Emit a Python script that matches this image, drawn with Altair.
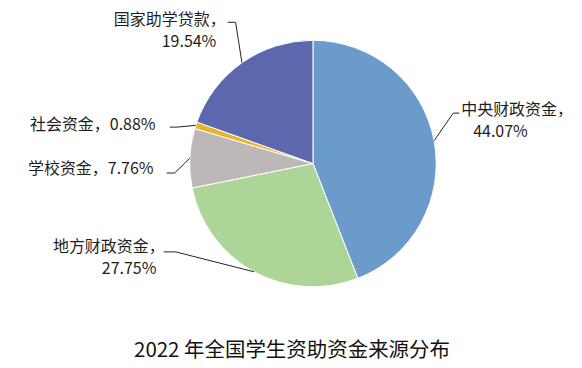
import math
import altair as alt
import pandas as pd

# ---- data ----
names = ["中央财政资金", "地方财政资金", "学校资金", "社会资金", "国家助学贷款"]
values = [44.07, 27.75, 7.76, 0.88, 19.54]
colors = ["#6b9bcb", "#acd597", "#bcb8b8", "#eab32b", "#5b68ae"]
title_text = "2022 年全国学生资助资金来源分布"

# ---- layout (page pixel coordinates) ----
M = 8
W, H = 566, 352
CX, CY, R = 313.5, 163.5, 123.5
FONT = "Noto Sans CJK SC"

# label line layout: (slice index, part, x, y)
label_layout = [
    (0, "name", 462, 110), (0, "pct", 474, 132),
    (1, "name", 53, 247), (1, "pct", 102, 269),
    (2, "both", 28, 169),
    (3, "both", 30, 125),
    (4, "name", 114, 20), (4, "pct", 162, 42),
]
# leader line: text-side end and elbow, then the slice edge
leader_layout = {
    0: [(460, 113), (454, 113)],
    1: [(164, 252), (176, 252)],
    2: [(167, 173), (175, 173)],
    3: [(170, 127), (178, 127)],
    4: [(228, 22), (236, 22)],
}

total = sum(values)
pie_df = pd.DataFrame({"name": names, "value": values, "idx": list(range(len(names)))})

# mid-angle edge points derived from data
edges = {}
cum = 0.0
for i, v in enumerate(values):
    mid = cum + v / 2
    cum += v
    th = 2 * math.pi * mid / total
    edges[i] = (CX + R * math.sin(th), CY - R * math.cos(th))

rows = []
for i, pts in leader_layout.items():
    allpts = pts + [edges[i]]
    for k, (x, y) in enumerate(allpts):
        rows.append({"sid": i, "k": k, "x": x, "y": y})
line_df = pd.DataFrame(rows)

trows = []
for i, part, x, y in label_layout:
    if part == "name":
        t = f"{names[i]}，"
    elif part == "pct":
        t = f"{values[i]:.2f}%"
    else:
        t = f"{names[i]}，{values[i]:.2f}%"
    trows.append({"t": t, "x": x, "y": y})
text_df = pd.DataFrame(trows)

title_df = pd.DataFrame({"t": [title_text], "x": [292.5], "y": [351]})

xs = alt.Scale(domain=[M, M + W], nice=False, zero=False)
ys = alt.Scale(domain=[M, M + H], nice=False, zero=False, reverse=True)

pie = alt.Chart(pie_df).mark_arc(radius=R, stroke="white", strokeWidth=1).encode(
    theta=alt.Theta("value:Q", stack=True),
    color=alt.Color("name:N", scale=alt.Scale(domain=names, range=colors), legend=None),
    order=alt.Order("idx:Q"),
    x=alt.value(CX - M),
    y=alt.value(CY - M),
)

lines = alt.Chart(line_df).mark_line(color="#222222", strokeWidth=1).encode(
    x=alt.X("x:Q", scale=xs, axis=None),
    y=alt.Y("y:Q", scale=ys, axis=None),
    detail="sid:N",
    order="k:Q",
)

labels = alt.Chart(text_df).mark_text(
    font=FONT, fontSize=16, color="#1e1e1e", align="left", baseline="middle"
).encode(
    x=alt.X("x:Q", scale=xs, axis=None),
    y=alt.Y("y:Q", scale=ys, axis=None),
    text="t:N",
)

title = alt.Chart(title_df).mark_text(
    font=FONT, fontSize=20.5, color="#111111", align="center", baseline="middle"
).encode(
    x=alt.X("x:Q", scale=xs, axis=None),
    y=alt.Y("y:Q", scale=ys, axis=None),
    text="t:N",
)

chart = alt.layer(pie, lines, labels, title).properties(
    width=W, height=H, padding=0, background="white"
).configure_view(stroke=None)

chart.save("out.html", embed_options={"renderer": "svg", "actions": False})
